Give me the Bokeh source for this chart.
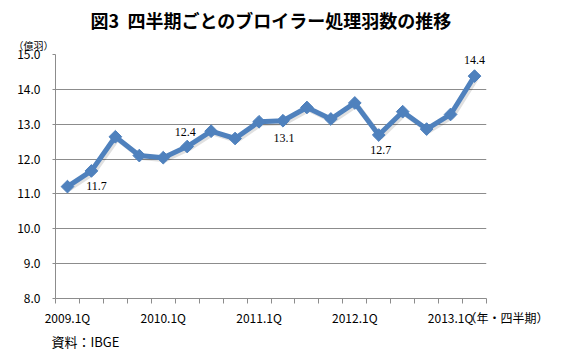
from bokeh.plotting import figure
from bokeh.models import FixedTicker, LabelSet, Range1d, ColumnDataSource, PrintfTickFormatter, Title
from bokeh.embed import file_html
from bokeh.resources import INLINE
import numpy as np

quarters = ["2009.1Q", "2009.2Q", "2009.3Q", "2009.4Q",
            "2010.1Q", "2010.2Q", "2010.3Q", "2010.4Q",
            "2011.1Q", "2011.2Q", "2011.3Q", "2011.4Q",
            "2012.1Q", "2012.2Q", "2012.3Q", "2012.4Q",
            "2013.1Q", "2013.2Q"]
values = [11.21, 11.66, 12.64, 12.10, 12.04, 12.36, 12.80, 12.59, 13.07,
          13.10, 13.48, 13.15, 13.61, 12.69, 13.36, 12.86, 13.28, 14.38]
label_idx = [1, 5, 9, 13, 17]
y_ticks = [8, 9, 10, 11, 12, 13, 14, 15]
tick_label_idx = [0, 4, 8, 12, 16]
title_text = "図3\u00a0\u00a0四半期ごとのブロイラー処理羽数の推移"
y_unit = "（億羽）"
x_unit = "（年・四半期）"
source_text = "資料：IBGE"

JP = "Noto Sans CJK JP"
BLUE = "#4F81BD"
GRID = "#8c8c8c"

p = figure(width=548, height=356, x_range=Range1d(-0.5, 17.5), y_range=Range1d(8, 15),
           output_backend="svg", toolbar_location=None,
           min_border_left=55, min_border_right=62, min_border_top=54, min_border_bottom=58)
p.outline_line_color = None
p.background_fill_color = "white"
p.border_fill_color = "white"

x = np.arange(len(values))
# shadow
dx = 2.0 / 23.9
dy = 2.0 / 34.86
p.line(x + dx, np.array(values) - dy, line_color="black", line_alpha=0.12, line_width=5)
p.line(x, values, line_color=BLUE, line_width=5, line_join="round")
p.scatter(x, values, marker="square", angle=np.pi / 4, size=9, fill_color=BLUE, line_color=BLUE)

# x axis: category labels + unit label at the right end
end_tick = len(values) - 0.5
overrides = {i: quarters[i] for i in tick_label_idx}
overrides[end_tick] = "\u3000\u3000\u3000\u3000\u00a0\u00a0" + x_unit
p.xaxis.ticker = FixedTicker(ticks=tick_label_idx + [end_tick],
                             minor_ticks=[i - 0.5 for i in range(len(values) + 1)])
p.xaxis.major_label_overrides = overrides
p.xaxis.major_tick_out = 0
p.xaxis.major_tick_in = 0
p.xaxis.minor_tick_out = 5
p.xaxis.minor_tick_in = 0
p.xaxis.minor_tick_line_color = GRID
p.xaxis.axis_line_color = GRID
p.xaxis.major_label_standoff = 5
p.xaxis.major_label_text_font = JP
p.xaxis.major_label_text_font_size = "12px"
p.xaxis.major_label_text_color = "black"
p.xgrid.visible = False

p.yaxis.ticker = FixedTicker(ticks=y_ticks)
p.yaxis.formatter = PrintfTickFormatter(format="%.1f")
p.yaxis.minor_tick_line_color = None
p.yaxis.major_tick_out = 3
p.yaxis.major_tick_in = 0
p.yaxis.major_tick_line_color = GRID
p.yaxis.axis_line_color = GRID
p.yaxis.major_label_standoff = 12
p.yaxis.major_label_text_font = JP
p.yaxis.major_label_text_font_size = "12px"
p.yaxis.major_label_text_color = "black"
p.ygrid.grid_line_color = GRID
p.ygrid.ticker = FixedTicker(ticks=y_ticks)

# data labels
lab_src = ColumnDataSource(dict(
    x=[int(i) for i in label_idx],
    y=[values[i] for i in label_idx],
    t=["%.1f" % values[i] for i in label_idx],
    xo=[5, -2, 1, 2, 0],
    yo=[-15, 15, -17, -15, 16],
))
p.add_layout(LabelSet(x="x", y="y", text="t", source=lab_src, x_offset="xo", y_offset="yo",
                      text_align="center", text_baseline="middle", text_font=JP,
                      text_font_size="12px", text_color="black"))

# titles
p.add_layout(Title(text=y_unit, align="left", offset=-42, standoff=4,
                   text_font=JP, text_font_size="10px", text_font_style="normal",
                   text_color="black"), "above")
p.add_layout(Title(text=title_text, align="center", offset=10, standoff=2,
                   text_font=JP, text_font_size="18px", text_font_style="bold",
                   text_color="black"), "above")
p.add_layout(Title(text=source_text, align="left", offset=-4, standoff=3,
                   text_font=JP, text_font_size="13px", text_font_style="normal",
                   text_color="black"), "below")

open("out.html", "w").write(file_html(p, INLINE))
